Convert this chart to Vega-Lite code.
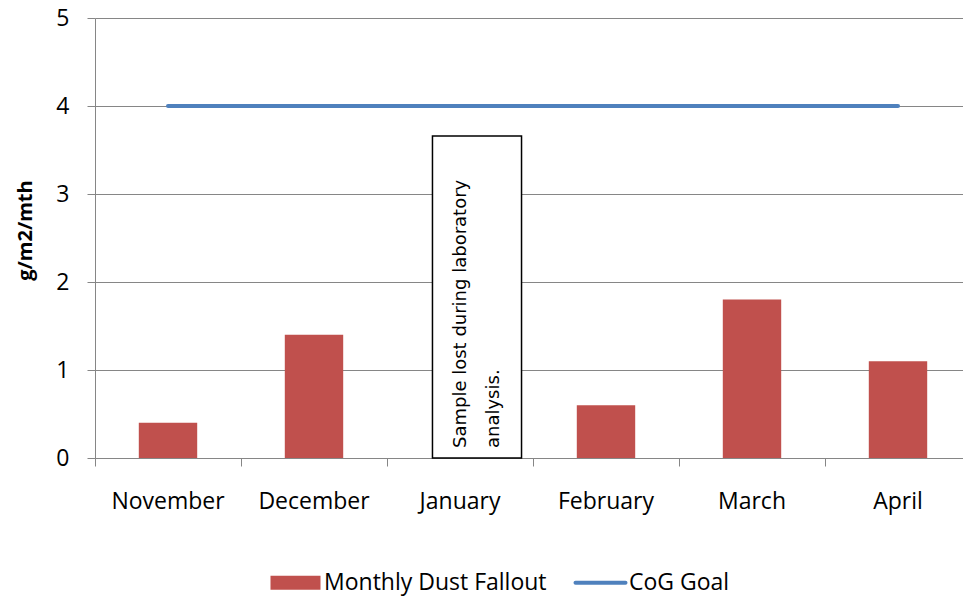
{
  "$schema": "https://vega.github.io/schema/vega-lite/v6.json",
  "width": 867,
  "height": 440,
  "autosize": {"type": "none"},
  "padding": {"left": 95, "top": 18, "right": 1, "bottom": 138},
  "background": "white",
  "config": {
    "view": {"stroke": null},
    "font": "Open Sans",
    "axis": {
      "domainColor": "#868686",
      "tickColor": "#868686",
      "gridColor": "#868686",
      "labelColor": "black",
      "labelFont": "Open Sans",
      "labelFontSize": 23,
      "tickSize": 8
    }
  },
  "data": {
    "values": [
      {"month": "November", "dust": 0.4, "goal": 4},
      {"month": "December", "dust": 1.4, "goal": 4},
      {"month": "January", "dust": null, "goal": 4, "note": "Sample lost during laboratory\nanalysis.", "noteTop": 3.66, "noteBase": 0},
      {"month": "February", "dust": 0.6, "goal": 4},
      {"month": "March", "dust": 1.8, "goal": 4},
      {"month": "April", "dust": 1.1, "goal": 4}
    ]
  },
  "encoding": {
    "x": {
      "field": "month",
      "type": "nominal",
      "sort": ["November", "December", "January", "February", "March", "April"],
      "scale": {"paddingInner": 0, "paddingOuter": 0, "range": [0, 876]},
      "axis": {"title": null, "labelAngle": 0, "labelPadding": 24, "bandPosition": 0, "grid": false}
    }
  },
  "layer": [
    {
      "mark": {"type": "bar", "width": {"band": 0.4}},
      "transform": [{"filter": "datum.dust != null"}],
      "encoding": {
        "y": {
          "field": "dust",
          "type": "quantitative",
          "scale": {"domain": [0, 5], "nice": false},
          "axis": {
            "values": [0, 1, 2, 3, 4, 5],
            "format": "d",
            "grid": true,
            "labelPadding": 18,
            "title": "g/m2/mth",
            "titleFont": "Open Sans",
            "titleFontSize": 20,
            "titleFontWeight": "bold",
            "titleColor": "black",
            "titlePadding": 20,
            "titleY": 212
          }
        },
        "color": {
          "datum": "Monthly Dust Fallout",
          "type": "nominal",
          "scale": {"domain": ["Monthly Dust Fallout", "CoG Goal"], "range": ["#C0504D", "#4F81BD"]},
          "legend": {
            "orient": "none",
            "legendX": 189,
            "legendY": 553,
            "direction": "horizontal",
            "title": null,
            "labelFont": "Open Sans",
            "labelFontSize": 23,
            "labelColor": "black",
            "labelLimit": 0,
            "labelOffset": 17,
            "columnPadding": 20,
            "symbolSize": 2500,
            "encode": {
              "symbols": {
                "update": {
                  "shape": {"signal": "datum.value === 'CoG Goal' ? 'M-1,0H1' : 'M-1,-0.28H1V0.28H-1Z'"},
                  "fill": {"signal": "datum.value === 'CoG Goal' ? 'transparent' : '#C0504D'"},
                  "stroke": {"signal": "datum.value === 'CoG Goal' ? '#4F81BD' : 'transparent'"},
                  "strokeWidth": {"signal": "datum.value === 'CoG Goal' ? 4 : 0"},
                  "strokeCap": {"value": "round"},
                  "opacity": {"value": 1}
                }
              }
            }
          }
        }
      }
    },
    {
      "mark": {"type": "line", "strokeWidth": 4, "strokeCap": "round"},
      "encoding": {
        "y": {"field": "goal", "type": "quantitative"},
        "color": {"datum": "CoG Goal", "type": "nominal"}
      }
    },
    {
      "mark": {"type": "bar", "width": {"band": 0.61}, "xOffset": 17, "fill": "white", "stroke": "black", "strokeWidth": 1.5},
      "transform": [{"filter": "datum.noteTop != null"}],
      "encoding": {
        "y": {"field": "noteTop", "type": "quantitative"}
      }
    },
    {
      "mark": {"type": "text", "angle": 270, "align": "left", "baseline": "middle", "lineBreak": "\n", "lineHeight": 33, "dx": 10, "dy": 1, "font": "DejaVu Sans", "fontSize": 18, "color": "black"},
      "transform": [{"filter": "datum.note != null"}],
      "encoding": {
        "y": {"field": "noteBase", "type": "quantitative"},
        "text": {"field": "note"}
      }
    }
  ]
}
